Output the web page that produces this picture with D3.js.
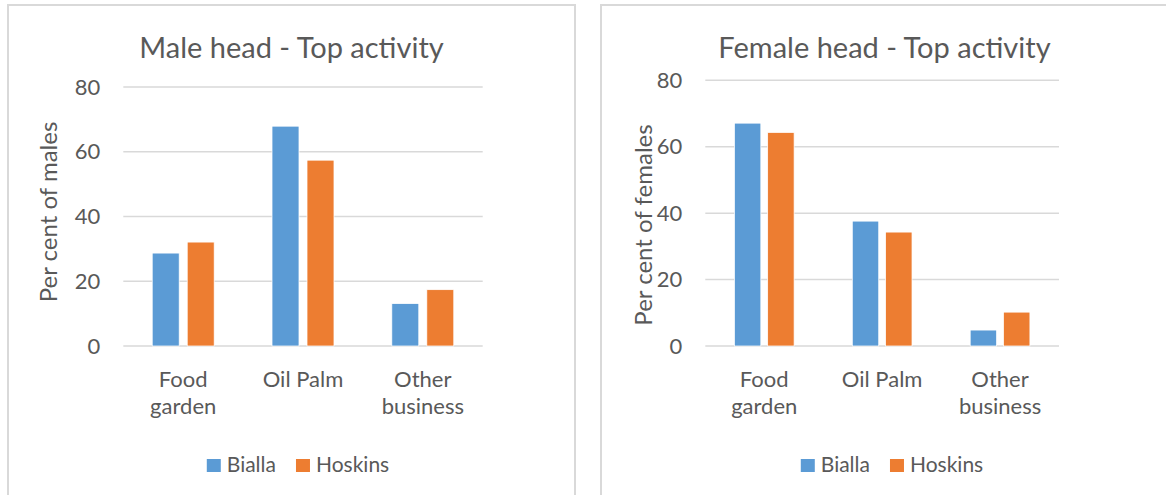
<!DOCTYPE html>
<html>
<head>
<meta charset="utf-8">
<script src="https://cdn.jsdelivr.net/npm/d3@7"></script>
<style>
  html, body { margin: 0; padding: 0; background: #ffffff; }
  svg { display: block; }
  text { font-family: Lato, "Open Sans", sans-serif; fill: #595959; }
</style>
</head>
<body>
<script>
// Survey results: share of household heads by their top activity
const categories = ["Food garden", "Oil Palm", "Other business"];
const seriesNames = ["Bialla", "Hoskins"];
const seriesColors = ["#5B9BD5", "#ED7D31"];
const yTicks = [0, 20, 40, 60, 80];

const maleBialla = [28.7, 67.9, 13.1];
const maleHoskins = [32.1, 57.4, 17.4];
const femaleBialla = [67.1, 37.6, 4.8];
const femaleHoskins = [64.3, 34.3, 10.2];

const W = 1166, H = 495;
const svg = d3.select("body").append("svg")
  .attr("width", W).attr("height", H);

function wrapLines(textSel, label, maxWidth) {
  // split a category label into lines that fit the band
  const words = label.split(" ");
  const lines = [];
  let line = [];
  const probe = textSel.append("tspan");
  words.forEach(w => {
    const trial = line.concat([w]).join(" ");
    probe.text(trial);
    if (probe.node().getComputedTextLength() > maxWidth && line.length) {
      lines.push(line.join(" "));
      line = [w];
    } else {
      line.push(w);
    }
  });
  lines.push(line.join(" "));
  probe.remove();
  return lines;
}

function drawPanel(p) {
  const g = svg.append("g");

  // chart frame
  g.append("rect")
    .attr("x", p.frame.x).attr("y", p.frame.y)
    .attr("width", p.frame.w).attr("height", p.frame.h)
    .attr("fill", "#ffffff")
    .attr("stroke", "#d9d9d9").attr("stroke-width", 2);

  const x0 = d3.scaleBand().domain(categories)
    .range([p.plot.left, p.plot.right]).paddingInner(0).paddingOuter(0);
  const x1 = d3.scaleBand().domain(seriesNames)
    .range([0, x0.bandwidth()])
    .paddingInner(p.barGap).paddingOuter(p.barOuter);
  const y = d3.scaleLinear().domain([0, 80]).range([p.plot.bottom, p.plot.top]);

  // horizontal gridlines
  g.append("g").selectAll("line").data(yTicks).join("line")
    .attr("x1", p.plot.left).attr("x2", p.plot.right)
    .attr("y1", d => y(d)).attr("y2", d => y(d))
    .attr("stroke", "#d9d9d9").attr("stroke-width", 1.5);

  // y axis tick labels
  const yAxis = d3.axisLeft(y).tickValues(yTicks).tickSize(0).tickPadding(23);
  const ya = g.append("g").attr("transform", `translate(${p.plot.left},0)`).call(yAxis);
  ya.select(".domain").remove();
  ya.selectAll("text")
    .style("font-family", "Lato, sans-serif")
    .style("font-size", "22px").attr("fill", "#595959");

  // bars
  const rows = categories.map((c, i) => ({ c, vals: p.series.map((s, k) => ({ k, name: seriesNames[k], v: s[i] })) }));
  const groups = g.append("g").selectAll("g").data(rows).join("g")
    .attr("transform", d => `translate(${x0(d.c)},0)`);
  groups.selectAll("rect").data(d => d.vals).join("rect")
    .attr("x", d => x1(d.name))
    .attr("width", x1.bandwidth())
    .attr("y", d => y(d.v))
    .attr("height", d => y(0) - y(d.v))
    .attr("fill", d => seriesColors[d.k])
    .attr("stroke", "#ffffff").attr("stroke-width", 0.75);

  // category labels
  const cat = g.append("g");
  categories.forEach(c => {
    const t = cat.append("text")
      .attr("text-anchor", "middle")
      .style("font-size", "22px");
    const lines = wrapLines(t, c, 100);
    lines.forEach((ln, i) => {
      t.append("tspan")
        .attr("x", x0(c) + x0.bandwidth() / 2)
        .attr("y", p.catBaseline + i * 27)
        .text(ln);
    });
  });

  // y axis title
  g.append("text")
    .attr("transform", `translate(${p.yTitle.x},${p.yTitle.y}) rotate(-90)`)
    .attr("text-anchor", "middle")
    .style("font-size", "24px")
    .text(p.yLabel);

  // chart title
  g.append("text")
    .attr("x", p.frame.x + p.titleCx).attr("y", 58)
    .attr("text-anchor", "middle")
    .style("font-size", "29px")
    .text(p.title);

  // legend
  const leg = g.append("g");
  const items = seriesNames.map((n, k) => ({ n, k }));
  let cx = 0;
  const positioned = [];
  items.forEach(it => {
    const t = leg.append("text").style("font-size", "21px").text(it.n);
    const w = t.node().getComputedTextLength();
    positioned.push({ it, t, x: cx, w });
    cx += 14 + 6 + w + 20;
  });
  const totalW = cx - 20;
  const startX = p.frame.x + p.legendCx - totalW / 2;
  positioned.forEach(o => {
    leg.append("rect")
      .attr("x", startX + o.x).attr("y", 459)
      .attr("width", 14).attr("height", 13)
      .attr("fill", seriesColors[o.it.k]);
    o.t.attr("x", startX + o.x + 20).attr("y", 472);
  });
}

drawPanel({
  title: "Male head - Top activity",
  yLabel: "Per cent of males",
  series: [maleBialla, maleHoskins],
  frame: { x: 8, y: 5, w: 567, h: 500 },
  plot: { left: 123.3, right: 482.7, top: 87, bottom: 346 },
  barGap: 0.229, barOuter: 0.826,
  catBaseline: 387,
  yTitle: { x: 57, y: 212 },
  titleCx: 283.5,
  legendCx: 290
});

drawPanel({
  title: "Female head - Top activity",
  yLabel: "Per cent of females",
  series: [femaleBialla, femaleHoskins],
  frame: { x: 601, y: 5, w: 580, h: 500 },
  plot: { left: 705.3, right: 1059, top: 80.3, bottom: 346 },
  barGap: 0.205, barOuter: 0.874,
  catBaseline: 387,
  yTitle: { x: 652, y: 225 },
  titleCx: 283.5,
  legendCx: 291
});
</script>
</body>
</html>
